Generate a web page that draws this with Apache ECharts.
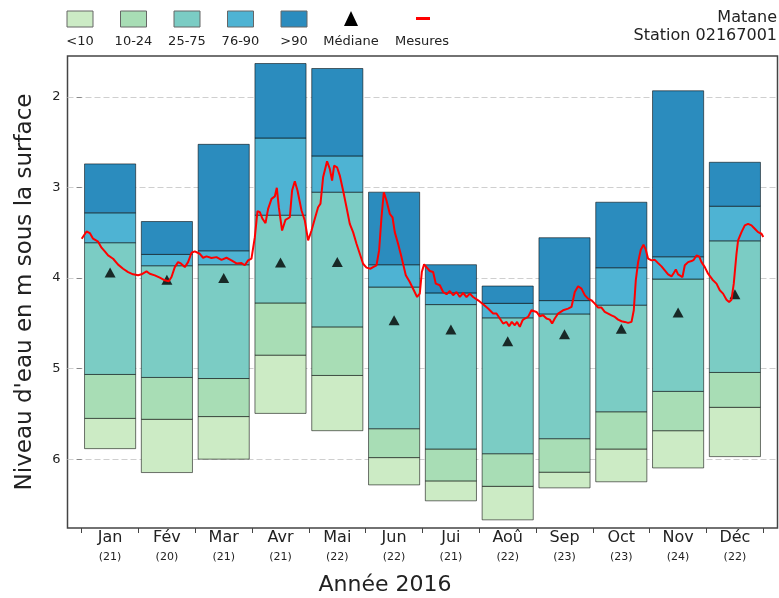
<!DOCTYPE html>
<html>
<head>
<meta charset="utf-8">
<script src="https://cdn.jsdelivr.net/npm/echarts@6/dist/echarts.min.js"></script>
<style>
html,body{margin:0;padding:0;background:#fff;}
#chart{width:779px;height:598px;}
</style>
</head>
<body>
<div id="chart"></div>
<script>
// ---------- DATA ----------
const mois = ['Jan','Fév','Mar','Avr','Mai','Jun','Jui','Aoû','Sep','Oct','Nov','Déc'];
const nbAnnees = [21,20,21,21,22,22,21,22,23,23,24,22];
// niveaux (m sous la surface) : bornes des classes de percentiles
const niveauMin = [2.741,3.377,2.525,1.633,1.688,3.053,3.854,4.089,3.556,3.164,1.934,2.723];
const p90 = [3.281,3.740,3.700,2.455,2.653,3.854,4.165,4.280,4.250,3.887,3.766,3.208];
const p75 = [3.611,3.865,3.854,3.307,3.053,4.100,4.294,4.440,4.397,4.300,4.012,3.590];
const p25 = [5.065,5.098,5.110,4.276,4.540,5.664,5.888,5.940,5.774,5.477,5.252,5.043];
const p10 = [5.550,5.560,5.530,4.852,5.076,5.983,6.240,6.300,6.144,5.888,5.686,5.428];
const niveauMax = [5.884,6.148,6.000,5.495,5.686,6.284,6.460,6.670,6.317,6.250,6.097,5.972];
const mediane = [3.94,4.02,4.00,3.83,3.825,4.467,4.57,4.698,4.62,4.56,4.38,4.18];

// Mesures 2016 : temps en mois depuis le 1er janvier, niveau en m
const mesuresT = [0.00,0.085,0.143,0.20,0.289,0.349,0.407,0.465,0.553,0.641,0.729,0.817,0.905,0.993,
1.053,1.141,1.199,1.287,1.375,1.463,1.533,1.581,1.639,1.697,1.745,1.815,1.873,1.933,1.991,
2.079,2.137,2.197,2.285,2.373,2.461,2.549,2.637,2.725,2.813,2.871,2.93,2.989,
3.048,3.095,3.136,3.183,3.236,3.282,3.342,3.40,3.435,3.47,3.528,3.588,3.664,3.704,3.752,3.799,3.87,3.928,3.986,
4.046,4.104,4.162,4.204,4.25,4.32,4.368,4.408,4.444,4.496,4.544,4.602,4.662,4.72,4.778,4.838,4.896,4.954,
5.014,5.085,5.13,5.19,5.236,5.278,5.319,5.366,5.424,5.472,5.512,5.57,5.63,5.706,5.776,5.847,5.905,5.952,5.988,
6.028,6.07,6.129,6.187,6.234,6.305,6.363,6.423,6.481,6.539,6.599,6.657,6.715,6.775,6.833,6.891,6.979,
7.067,7.155,7.243,7.303,7.361,7.419,7.479,7.525,7.572,7.625,7.665,7.713,7.761,7.801,7.859,7.919,7.947,
8.007,8.065,8.123,8.183,8.241,8.282,8.329,8.387,8.475,8.563,8.623,8.681,8.739,8.799,8.857,8.915,8.975,
9.033,9.092,9.151,9.209,9.268,9.327,9.386,9.444,9.504,9.562,9.62,9.68,9.72,9.755,9.796,9.843,9.891,9.931,9.972,
10.032,10.09,10.148,10.208,10.266,10.324,10.384,10.424,10.46,10.5,10.53,10.577,10.618,10.676,10.736,10.776,10.824,10.87,10.912,10.97,
11.028,11.106,11.176,11.234,11.292,11.352,11.398,11.44,11.48,11.528,11.556,11.616,11.674,11.732,11.792,11.85,11.908,11.968,12.0];
const mesuresNiveau = [3.567,3.487,3.505,3.567,3.60,3.666,3.707,3.751,3.788,3.853,3.898,3.935,3.96,3.971,
3.96,3.927,3.953,3.971,3.997,4.026,4.037,3.99,3.88,3.825,3.84,3.88,3.825,3.722,3.707,
3.733,3.777,3.762,3.78,3.77,3.80,3.777,3.806,3.84,3.836,3.86,3.806,3.787,
3.55,3.263,3.274,3.347,3.395,3.237,3.127,3.10,3.005,3.219,3.476,3.358,3.33,3.035,2.932,3.035,3.256,3.366,3.586,
3.476,3.347,3.219,3.18,2.889,2.712,2.796,2.925,2.76,2.778,2.87,3.035,3.219,3.403,3.494,3.623,3.733,3.843,
3.886,3.898,3.88,3.86,3.696,3.33,3.054,3.145,3.292,3.33,3.494,3.623,3.77,3.971,4.045,4.136,4.21,4.173,3.935,
3.85,3.88,3.923,3.935,4.063,4.08,4.155,4.18,4.144,4.19,4.155,4.21,4.166,4.21,4.173,4.21,4.247,
4.29,4.338,4.393,4.393,4.448,4.503,4.485,4.533,4.485,4.522,4.485,4.54,4.467,4.448,4.43,4.357,4.375,
4.375,4.423,4.412,4.448,4.46,4.503,4.448,4.393,4.357,4.338,4.32,4.155,4.092,4.118,4.19,4.228,4.247,
4.283,4.327,4.327,4.375,4.393,4.412,4.43,4.46,4.478,4.485,4.496,4.485,4.357,4.026,3.825,3.688,3.633,3.688,3.787,
3.806,3.80,3.836,3.872,3.916,3.96,3.982,3.945,3.907,3.96,3.971,3.99,3.86,3.825,3.813,3.80,3.751,3.762,3.825,3.88,
3.953,4.019,4.063,4.136,4.173,4.24,4.265,4.24,4.063,3.733,3.586,3.494,3.42,3.403,3.42,3.457,3.494,3.512,3.549];

const yTicks = [2,3,4,5,6];
const classes = ['<10','10-24','25-75','76-90','>90'];
const couleurs = ['#ccebc5','#a8ddb5','#7bccc4','#4eb3d3','#2b8cbe'];

// ---------- LAYOUT ----------
const G_LEFT = 67.5, G_RIGHT = 1.5, G_TOP = 56, G_BOTTOM = 70;
const X_MIN = -0.25, X_MAX = 12.25, BAR_W = 0.9;
const W = 779;
const unit = (W - G_LEFT - G_RIGHT) / (X_MAX - X_MIN);
const G1_LEFT = G_LEFT + (0 - X_MIN) * unit;
const G1_RIGHT = G_RIGHT + (X_MAX - 12) * unit;
const FONT = 'DejaVu Sans';

// class boundaries: [from, to] per class index (0 = <10 ... 4 = >90)
const bornes = [
  [p10, niveauMax],
  [p25, p10],
  [p75, p25],
  [p90, p75],
  [niveauMin, p90]
];

function makeBarSeries(k) {
  const data = mois.map((m, i) => [i + 0.5, bornes[k][0][i], bornes[k][1][i]]);
  return {
    type: 'custom',
    name: classes[k],
    xAxisIndex: 0, yAxisIndex: 0,
    z: 2,
    encode: { x: 0, y: [1, 2] },
    data: data,
    renderItem: function (params, api) {
      const x = api.value(0), a = api.value(1), b = api.value(2);
      const p0 = api.coord([x - BAR_W / 2, a]);
      const p1 = api.coord([x + BAR_W / 2, b]);
      return {
        type: 'rect',
        shape: { x: p0[0], y: Math.min(p0[1], p1[1]), width: p1[0] - p0[0], height: Math.abs(p1[1] - p0[1]) },
        style: { fill: couleurs[k], stroke: 'rgba(0,0,0,0.55)', lineWidth: 1 }
      };
    }
  };
}

const series = [];
for (let k = 0; k < 5; k++) series.push(makeBarSeries(k));
series.push({
  type: 'scatter', name: 'Médiane', xAxisIndex: 0, yAxisIndex: 0, z: 4,
  symbol: 'triangle', symbolSize: [11, 10],
  itemStyle: { color: '#000' },
  data: mediane.map((v, i) => [i + 0.5, v])
});
series.push({
  type: 'line', name: 'Mesures', xAxisIndex: 0, yAxisIndex: 0, z: 5,
  symbol: 'none', lineStyle: { color: '#ff0000', width: 2 },
  data: mesuresT.map((t, i) => [t, mesuresNiveau[i]])
});

// ---------- LEGEND (graphic) ----------
const graphic = [];
const legX = [67, 120.5, 174, 227.5, 281];
for (let k = 0; k < 5; k++) {
  graphic.push({ type: 'rect', shape: { x: legX[k], y: 11, width: 26, height: 16 },
    style: { fill: couleurs[k], stroke: '#666', lineWidth: 1 } });
  graphic.push({ type: 'text', x: legX[k] + 13, y: 42,
    style: { text: classes[k], font: '13px "' + FONT + '"', fill: '#222', align: 'center', verticalAlign: 'middle' } });
}
graphic.push({ type: 'polygon', shape: { points: [[344, 26], [351, 11], [358, 26]] }, style: { fill: '#000' } });
graphic.push({ type: 'text', x: 351, y: 42,
  style: { text: 'Médiane', font: '13px "' + FONT + '"', fill: '#222', align: 'center', verticalAlign: 'middle' } });
graphic.push({ type: 'rect', shape: { x: 416, y: 17, width: 14, height: 3 }, style: { fill: '#ff0000' } });
graphic.push({ type: 'text', x: 422, y: 42,
  style: { text: 'Mesures', font: '13px "' + FONT + '"', fill: '#222', align: 'center', verticalAlign: 'middle' } });
graphic.push({ type: 'text', x: 777, y: 18,
  style: { text: 'Matane', font: '16px "' + FONT + '"', fill: '#222', align: 'right', verticalAlign: 'middle' } });
graphic.push({ type: 'text', x: 777, y: 36,
  style: { text: 'Station 02167001', font: '16px "' + FONT + '"', fill: '#222', align: 'right', verticalAlign: 'middle' } });
graphic.push({ type: 'text', x: 385, y: 585,
  style: { text: 'Année 2016', font: '22px "' + FONT + '"', fill: '#222', align: 'center', verticalAlign: 'middle' } });

const option = {
  animation: false,
  backgroundColor: '#fff',
  grid: [
    { left: G_LEFT, right: G_RIGHT, top: G_TOP, bottom: G_BOTTOM, show: true, borderColor: '#444', borderWidth: 1.5, backgroundColor: 'transparent' },
    { left: G1_LEFT, right: G1_RIGHT, top: G_TOP, bottom: G_BOTTOM, show: false }
  ],
  xAxis: [
    { type: 'value', gridIndex: 0, min: X_MIN, max: X_MAX,
      axisLine: { show: false }, axisTick: { show: false }, axisLabel: { show: false }, splitLine: { show: false } },
    { type: 'category', gridIndex: 1, data: mois, boundaryGap: true,
      axisLine: { show: false },
      axisTick: { show: true, length: 5, lineStyle: { color: '#444', width: 1 } },
      axisLabel: {
        margin: 1,
        formatter: function (v, i) { return '{m|' + v + '}\n{c|(' + nbAnnees[i] + ')}'; },
        rich: {
          m: { fontFamily: FONT, fontSize: 16, lineHeight: 18, color: '#222' },
          c: { fontFamily: FONT, fontSize: 11, lineHeight: 20, color: '#222' }
        }
      },
      splitLine: { show: false } }
  ],
  yAxis: [
    { type: 'value', gridIndex: 0, inverse: true, min: 1.55, max: 6.76,
      name: "Niveau d'eau en m sous la surface", nameLocation: 'middle', nameGap: 31,
      nameTextStyle: { fontFamily: FONT, fontSize: 23, color: '#222' },
      axisLine: { show: false },
      axisTick: { show: true, length: 5, customValues: yTicks, lineStyle: { color: '#888' } },
      axisLabel: { customValues: yTicks, margin: 7, fontFamily: FONT, fontSize: 13, color: '#222',
        formatter: function (v) { return String(v); } },
      splitLine: { show: true, lineStyle: { color: '#cfcfcf', type: [6, 3], width: 1 } } },
    { type: 'value', gridIndex: 1, show: false, min: 0, max: 1 }
  ],
  graphic: graphic,
  series: series
};

const chart = echarts.init(document.getElementById('chart'), null, { renderer: 'canvas' });
chart.setOption(option);
</script>
</body>
</html>
